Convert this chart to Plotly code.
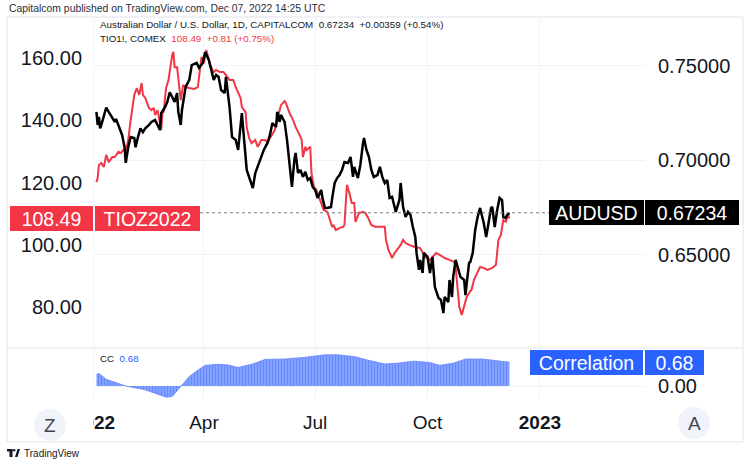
import plotly.graph_objects as go

# ---------------- data ----------------
aud_dates = [
    "2022-01-03", "2022-01-04", "2022-01-05", "2022-01-06", "2022-01-07", "2022-01-11", "2022-01-13", "2022-01-17",
    "2022-01-18", "2022-01-19", "2022-01-21", "2022-01-24", "2022-01-26", "2022-01-27", "2022-01-29", "2022-01-31",
    "2022-02-03", "2022-02-04", "2022-02-06", "2022-02-08", "2022-02-10", "2022-02-12", "2022-02-15", "2022-02-17",
    "2022-02-20", "2022-02-24", "2022-02-25", "2022-02-28", "2022-03-02", "2022-03-04", "2022-03-06", "2022-03-08",
    "2022-03-10", "2022-03-11", "2022-03-13", "2022-03-14", "2022-03-17", "2022-03-20", "2022-03-22", "2022-03-26",
    "2022-03-28", "2022-03-31", "2022-04-02", "2022-04-05", "2022-04-07", "2022-04-09", "2022-04-11", "2022-04-13",
    "2022-04-15", "2022-04-18", "2022-04-19", "2022-04-22", "2022-04-24", "2022-04-27", "2022-04-29", "2022-05-02",
    "2022-05-06", "2022-05-11", "2022-05-13", "2022-05-16", "2022-05-18", "2022-05-20", "2022-05-23", "2022-05-25",
    "2022-05-27", "2022-05-30", "2022-05-31", "2022-06-02", "2022-06-03", "2022-06-06", "2022-06-08", "2022-06-10",
    "2022-06-12", "2022-06-14", "2022-06-15", "2022-06-17", "2022-06-19", "2022-06-21", "2022-06-23", "2022-06-25",
    "2022-06-27", "2022-06-29", "2022-07-01", "2022-07-03", "2022-07-06", "2022-07-07", "2022-07-09", "2022-07-11",
    "2022-07-14", "2022-07-15", "2022-07-17", "2022-07-19", "2022-07-21", "2022-07-23", "2022-07-25", "2022-07-28",
    "2022-07-30", "2022-08-01", "2022-08-02", "2022-08-05", "2022-08-07", "2022-08-09", "2022-08-10", "2022-08-12",
    "2022-08-14", "2022-08-16", "2022-08-18", "2022-08-21", "2022-08-23", "2022-08-25", "2022-08-27", "2022-08-29",
    "2022-08-31", "2022-09-02", "2022-09-04", "2022-09-05", "2022-09-08", "2022-09-09", "2022-09-11", "2022-09-13",
    "2022-09-15", "2022-09-17", "2022-09-19", "2022-09-21", "2022-09-22", "2022-09-24", "2022-09-25", "2022-09-27",
    "2022-09-28", "2022-10-01", "2022-10-03", "2022-10-05", "2022-10-07", "2022-10-10", "2022-10-12", "2022-10-14",
    "2022-10-15", "2022-10-18", "2022-10-19", "2022-10-21", "2022-10-22", "2022-10-24", "2022-10-27", "2022-10-28",
    "2022-10-31", "2022-11-01", "2022-11-04", "2022-11-05", "2022-11-07", "2022-11-09", "2022-11-11", "2022-11-13",
    "2022-11-14", "2022-11-16", "2022-11-18", "2022-11-20", "2022-11-22", "2022-11-23", "2022-11-25", "2022-11-27",
    "2022-11-29", "2022-12-01", "2022-12-02", "2022-12-04", "2022-12-05", "2022-12-07",
]
aud_values = [
    0.7257, 0.7188, 0.7230, 0.7170, 0.7188, 0.7280, 0.7257, 0.7214,
    0.7204, 0.7220, 0.7188, 0.7135, 0.7071, 0.6987, 0.7070, 0.7124,
    0.7119, 0.7070, 0.7124, 0.7170, 0.7150, 0.7170, 0.7188, 0.7204,
    0.7214, 0.7161, 0.7251, 0.7280, 0.7310, 0.7360, 0.7336, 0.7310,
    0.7357, 0.7257, 0.7188, 0.7267, 0.7389, 0.7426, 0.7505, 0.7516,
    0.7490, 0.7516, 0.7574, 0.7532, 0.7479, 0.7426, 0.7452, 0.7442,
    0.7373, 0.7357, 0.7442, 0.7278, 0.7124, 0.7108, 0.7056, 0.7251,
    0.6950, 0.6854, 0.6934, 0.6987, 0.7029, 0.7056, 0.7093, 0.7135,
    0.7198, 0.7177, 0.7257, 0.7204, 0.7241, 0.7204, 0.7108, 0.6987,
    0.6860, 0.7003, 0.7040, 0.6934, 0.6950, 0.6913, 0.6940, 0.6897,
    0.6907, 0.6860, 0.6844, 0.6802, 0.6844, 0.6802, 0.6749, 0.6749,
    0.6754, 0.6802, 0.6881, 0.6907, 0.6923, 0.6950, 0.6992, 0.6987,
    0.7019, 0.6913, 0.6966, 0.6907, 0.6976, 0.7082, 0.7119, 0.7056,
    0.7019, 0.6950, 0.6913, 0.6923, 0.6966, 0.6913, 0.6881, 0.6897,
    0.6802, 0.6807, 0.6754, 0.6728, 0.6791, 0.6881, 0.6754, 0.6701,
    0.6728, 0.6712, 0.6648, 0.6595, 0.6511, 0.6421, 0.6474, 0.6405,
    0.6511, 0.6490, 0.6405, 0.6490, 0.6331, 0.6273, 0.6262, 0.6193,
    0.6278, 0.6251, 0.6368, 0.6278, 0.6384, 0.6474, 0.6405, 0.6384,
    0.6368, 0.6288, 0.6458, 0.6463, 0.6511, 0.6632, 0.6701, 0.6749,
    0.6722, 0.6669, 0.6595, 0.6685, 0.6749, 0.6754, 0.6648, 0.6738,
    0.6802, 0.6791, 0.6701, 0.6696, 0.6710, 0.67234,
]

tio_dates = [
    "2022-01-03", "2022-01-04", "2022-01-05", "2022-01-07", "2022-01-09", "2022-01-11", "2022-01-13", "2022-01-16",
    "2022-01-18", "2022-01-21", "2022-01-23", "2022-01-25", "2022-01-27", "2022-01-29", "2022-01-31", "2022-02-02",
    "2022-02-03", "2022-02-05", "2022-02-07", "2022-02-09", "2022-02-10", "2022-02-12", "2022-02-15", "2022-02-17",
    "2022-02-19", "2022-02-20", "2022-02-22", "2022-02-25", "2022-02-26", "2022-02-27", "2022-03-01", "2022-03-03",
    "2022-03-06", "2022-03-07", "2022-03-08", "2022-03-10", "2022-03-11", "2022-03-13", "2022-03-15", "2022-03-17",
    "2022-03-20", "2022-03-24", "2022-03-27", "2022-03-30", "2022-04-01", "2022-04-03", "2022-04-06", "2022-04-09",
    "2022-04-11", "2022-04-14", "2022-04-17", "2022-04-19", "2022-04-22", "2022-04-25", "2022-04-27", "2022-05-01",
    "2022-05-02", "2022-05-05", "2022-05-06", "2022-05-08", "2022-05-10", "2022-05-13", "2022-05-15", "2022-05-18",
    "2022-05-21", "2022-05-23", "2022-05-29", "2022-06-03", "2022-06-06", "2022-06-07", "2022-06-10", "2022-06-13",
    "2022-06-15", "2022-06-19", "2022-06-20", "2022-06-21", "2022-06-23", "2022-06-24", "2022-06-27", "2022-06-28",
    "2022-06-30", "2022-07-02", "2022-07-05", "2022-07-06", "2022-07-08", "2022-07-11", "2022-07-13", "2022-07-15",
    "2022-07-16", "2022-07-18", "2022-07-21", "2022-07-24", "2022-07-25", "2022-07-27", "2022-07-29", "2022-07-31",
    "2022-08-02", "2022-08-03", "2022-08-06", "2022-08-07", "2022-08-09", "2022-08-11", "2022-08-13", "2022-08-16",
    "2022-08-19", "2022-08-23", "2022-08-27", "2022-08-28", "2022-08-30", "2022-09-02", "2022-09-04", "2022-09-06",
    "2022-09-09", "2022-09-11", "2022-09-13", "2022-09-16", "2022-09-20", "2022-09-25", "2022-09-29", "2022-10-03",
    "2022-10-07", "2022-10-08", "2022-10-11", "2022-10-15", "2022-10-19", "2022-10-23", "2022-10-24", "2022-10-25",
    "2022-10-27", "2022-10-29", "2022-10-31", "2022-11-02", "2022-11-04", "2022-11-06", "2022-11-08", "2022-11-11",
    "2022-11-13", "2022-11-16", "2022-11-19", "2022-11-23", "2022-11-26", "2022-11-28", "2022-11-30", "2022-12-02",
    "2022-12-04", "2022-12-06", "2022-12-07",
]
tio_values = [
    120.2, 121.5, 125.7, 126.3, 125.0, 128.9, 126.6, 128.2,
    128.2, 129.9, 129.5, 130.5, 130.5, 133.7, 140.1, 146.5,
    148.2, 150.4, 148.2, 152.0, 148.2, 147.2, 144.0, 143.3,
    144.0, 141.7, 143.3, 136.9, 142.4, 142.7, 150.4, 153.0,
    161.0, 162.0, 157.1, 157.1, 153.9, 146.5, 151.4, 150.7,
    150.4, 150.1, 150.7, 160.4, 158.4, 162.6, 157.8, 155.5,
    156.2, 155.5, 155.5, 154.6, 153.0, 153.0, 150.7, 147.2,
    144.3, 142.7, 137.9, 134.3, 132.7, 133.7, 131.5, 133.7,
    133.7, 133.0, 136.9, 144.9, 146.2, 145.6, 142.4, 140.1,
    137.9, 134.7, 133.7, 128.2, 131.5, 130.5, 131.5, 123.1,
    118.6, 117.7, 114.4, 113.5, 111.2, 110.6, 108.0, 105.8,
    106.4, 104.8, 105.5, 105.8, 106.4, 119.3, 116.7, 113.5,
    113.5, 107.4, 110.3, 110.3, 110.6, 110.3, 109.0, 106.4,
    105.8, 105.8, 105.8, 101.6, 98.4, 95.8, 97.4, 98.4,
    100.0, 101.6, 100.6, 100.0, 99.4, 99.0, 96.1, 95.2,
    96.8, 97.4, 96.8, 95.8, 95.2, 94.5, 92.9, 88.8,
    80.1, 77.5, 80.1, 83.3, 84.6, 85.6, 88.8, 91.0,
    92.9, 92.6, 92.0, 92.6, 93.6, 101.6, 103.2, 108.0,
    107.4, 109.6, 108.49,
]

cc_dates = [
    "2022-01-03", "2022-01-05", "2022-01-11", "2022-01-27", "2022-02-12", "2022-03-01", "2022-03-06", "2022-03-13",
    "2022-03-20", "2022-03-26", "2022-04-02", "2022-04-13", "2022-04-21", "2022-04-29", "2022-05-10", "2022-05-21",
    "2022-06-06", "2022-06-23", "2022-07-09", "2022-07-20", "2022-08-02", "2022-08-13", "2022-08-27", "2022-09-06",
    "2022-09-20", "2022-10-03", "2022-10-11", "2022-10-22", "2022-11-01", "2022-11-15", "2022-11-25", "2022-12-07",
]
cc_values = [
    0.33, 0.36, 0.19, 0.00, -0.11, -0.32, -0.30, 0.00,
    0.27, 0.43, 0.59, 0.62, 0.60, 0.53, 0.62, 0.76,
    0.77, 0.82, 0.89, 0.89, 0.84, 0.74, 0.63, 0.65,
    0.71, 0.67, 0.59, 0.65, 0.77, 0.77, 0.72, 0.68,
]

time_ticks = ["2022-01-01", "2022-04-01", "2022-07-01", "2022-10-01", "2023-01-01"]
time_labels = ["<b>2022</b>", "Apr", "Jul", "Oct", "<b>2023</b>"]
left_ticks = [80, 100, 120, 140, 160]
right_ticks = [0.65, 0.70, 0.75]

# ---------------- styling helpers ----------------
W, H = 750, 465
FONT = "Liberation Sans, Arial, sans-serif"
TXT = "#131722"
GRID = "#f0f3fa"
RED = "#f23645"
BLUE = "#2962ff"


def px(x):
    return x / W


def py(y):
    return 1 - y / H


fig = go.Figure()

fig.add_trace(go.Scatter(x=tio_dates, y=tio_values, mode="lines", line=dict(color=RED, width=2),
                         xaxis="x", yaxis="y", showlegend=False, hoverinfo="skip"))
fig.add_trace(go.Scatter(x=aud_dates, y=aud_values, mode="lines", line=dict(color="#000000", width=2.5),
                         xaxis="x", yaxis="y2", showlegend=False, hoverinfo="skip"))
fig.add_trace(go.Scatter(x=cc_dates, y=cc_values, mode="lines", line=dict(color="rgba(110,140,255,0.9)", width=1),
                         fill="tozeroy", fillcolor="rgba(110,140,255,0.6)",
                         fillpattern=dict(shape="|", fgcolor=BLUE, bgcolor="rgba(120,150,255,0.75)",
                                          size=3, solidity=0.6),
                         xaxis="x2", yaxis="y3", showlegend=False, hoverinfo="skip"))

x_dom = [px(94), px(645)]
main_dom = [py(348), py(17)]
cc_dom = [py(400), py(348)]
x_range = ["2022-01-01", "2023-03-28"]

fig.update_layout(
    width=W, height=H, margin=dict(l=0, r=0, t=0, b=0, autoexpand=False),
    paper_bgcolor="white", plot_bgcolor="white",
    font=dict(family=FONT, color=TXT),
    xaxis=dict(domain=x_dom, range=x_range, type="date", anchor="y", tickvals=time_ticks,
               showticklabels=False, showgrid=True, gridcolor=GRID, gridwidth=1, zeroline=False,
               showline=False, ticks="", automargin=False),
    xaxis2=dict(domain=x_dom, range=x_range, type="date", anchor="y3", matches="x", tickvals=time_ticks,
                ticktext=time_labels, showticklabels=True, showgrid=True, gridcolor=GRID, gridwidth=1,
                zeroline=False, showline=False, ticks="", ticklabelstandoff=9, automargin=False,
                tickfont=dict(size=19, color=TXT, family=FONT)),
    yaxis=dict(domain=main_dom, range=[66.9, 173.2], anchor="x", side="left", tickvals=left_ticks,
               tickformat=".2f", showgrid=False, zeroline=False, showline=False, ticks="",
               ticklabelstandoff=11, automargin=False, tickfont=dict(size=20, color=TXT, family=FONT)),
    yaxis2=dict(range=[0.6008, 0.7759], overlaying="y", anchor="x", side="right", tickvals=right_ticks,
                tickformat=".5f", showgrid=True, gridcolor=GRID, zeroline=False, showline=False, ticks="",
                ticklabelstandoff=12, automargin=False, tickfont=dict(size=20, color=TXT, family=FONT)),
    yaxis3=dict(domain=cc_dom, range=[-0.4, 1.086], anchor="x2", side="right", tickvals=[0],
                ticktext=["0.00"], showgrid=True, gridcolor=GRID, zeroline=False, showline=False,
                ticks="", ticklabelstandoff=12, automargin=False,
                tickfont=dict(size=20, color=TXT, family=FONT)),
)

shapes = []
# frame and separators
shapes.append(dict(type="rect", xref="paper", yref="paper", x0=px(7), x1=px(743), y0=py(442), y1=py(17),
                   line=dict(color="#e0e3eb", width=1), layer="above"))
shapes.append(dict(type="line", xref="paper", yref="paper", x0=px(7), x1=px(743), y0=py(348), y1=py(348),
                   line=dict(color="#e0e3eb", width=1), layer="above"))
shapes.append(dict(type="line", xref="paper", yref="paper", x0=px(94), x1=px(94), y0=py(400), y1=py(17),
                   line=dict(color=GRID, width=1), layer="below"))
# cover part of the first time label that lies under the left price scale
shapes.append(dict(type="rect", xref="paper", yref="paper", x0=px(8), x1=px(93), y0=py(441), y1=py(401),
                   fillcolor="white", line=dict(width=0), layer="above"))
# price line of AUDUSD
shapes.append(dict(type="line", xref="paper", yref="y2", x0=px(200), x1=px(549), y0=aud_values[-1],
                   y1=aud_values[-1], line=dict(color="#787b86", width=1, dash="dot"), layer="above"))
# Z / A buttons
for cx, cy in [(50, 425), (694, 423)]:
    shapes.append(dict(type="circle", xref="paper", yref="paper", x0=px(cx - 16), x1=px(cx + 16),
                       y0=py(cy + 16), y1=py(cy - 16), fillcolor="#f0f3fa", line=dict(width=0), layer="above"))
# TradingView logo mark
shapes.append(dict(type="rect", xref="paper", yref="paper", x0=px(7), x1=px(12.5), y0=py(451.5), y1=py(449),
                   fillcolor=TXT, line=dict(width=0), layer="above"))
shapes.append(dict(type="rect", xref="paper", yref="paper", x0=px(9.5), x1=px(12.5), y0=py(457), y1=py(449),
                   fillcolor=TXT, line=dict(width=0), layer="above"))
shapes.append(dict(type="circle", xref="paper", yref="paper", x0=px(13), x1=px(15.5), y0=py(451.5), y1=py(449),
                   fillcolor=TXT, line=dict(width=0), layer="above"))
shapes.append(dict(type="path", xref="paper", yref="paper",
                   path=f"M {px(15)} {py(457)} L {px(17.5)} {py(449)} L {px(20)} {py(449)} L {px(17.5)} {py(457)} Z",
                   fillcolor=TXT, line=dict(width=0), layer="above"))
fig.update_layout(shapes=shapes)

ann = []


def text(x, y, s, size, color=TXT, anchor="left"):
    ann.append(dict(x=px(x), y=py(y), xref="paper", yref="paper", text=s, showarrow=False,
                    xanchor=anchor, yanchor="middle", font=dict(size=size, color=color, family=FONT)))


def box(x0, width, yval, yref, s, bg):
    ann.append(dict(x=px(x0), y=yval, xref="paper", yref=yref, text=s, showarrow=False,
                    xanchor="left", yanchor="middle", width=width, height=25, bgcolor=bg, borderpad=0,
                    borderwidth=0, align="center", valign="middle",
                    font=dict(size=19.5, color="white", family=FONT)))


text(7, 8, "Capitalcom published on TradingView.com, Dec 07, 2022 14:25 UTC", 10.4, "#2a2e39")
text(98, 25, "Australian Dollar / U.S. Dollar, 1D, CAPITALCOM  0.67234  +0.00359 (+0.54%)", 9.8)
text(98, 38, f"TIO1!, COMEX  <span style='color:{RED}'>108.49  +0.81 (+0.75%)</span>", 9.8)
text(98, 358, f"CC  <span style='color:{BLUE}'>0.68</span>", 9.8)
text(22, 453, "TradingView", 10, TXT)
text(50, 425, "Z", 19, "#434651", "center")
text(694, 423, "A", 19, "#434651", "center")

box(10, 83, tio_values[-1], "y", f"{tio_values[-1]:.2f}", RED)
box(95, 105, tio_values[-1], "y", "TIOZ2022", RED)
box(549, 95, aud_values[-1], "y2", "AUDUSD", "#000000")
box(645, 94, aud_values[-1], "y2", f"{aud_values[-1]:.5f}", "#000000")
box(530, 113, cc_values[-1], "y3", "Correlation", BLUE)
box(645, 59, cc_values[-1], "y3", f"{cc_values[-1]:.2f}", BLUE)

fig.update_layout(annotations=ann)

fig.write_html("out.html")
